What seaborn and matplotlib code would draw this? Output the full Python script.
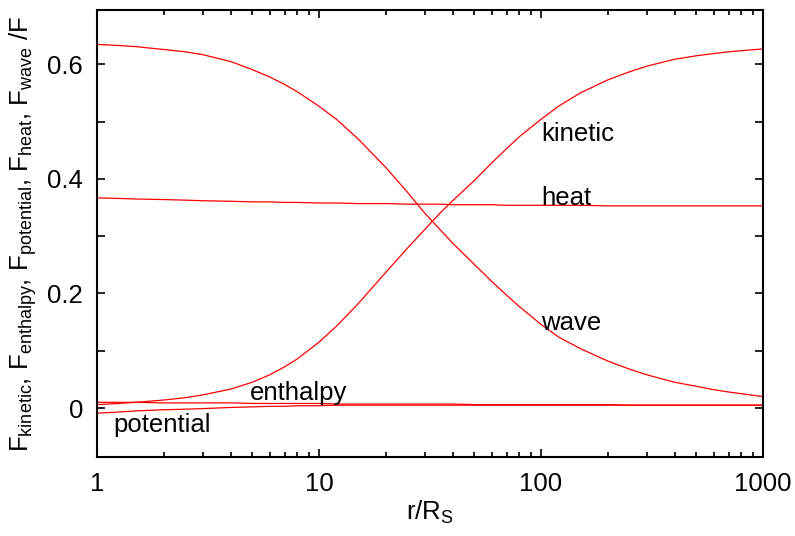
import numpy as np
import pandas as pd
import matplotlib
matplotlib.use("Agg")
import matplotlib.pyplot as plt
from matplotlib.ticker import LogLocator, NullFormatter, FixedLocator, FixedFormatter
import seaborn as sns

# ---- data ----
r = [1, 1.25, 1.5, 2, 2.5, 3, 4, 5, 6, 7, 8, 10, 12, 15, 20, 25, 30, 35, 40, 50, 60, 70, 80,
     100, 120, 150, 200, 250, 300, 400, 500, 600, 700, 800, 1000]
wave = [0.635, 0.633, 0.631, 0.626, 0.622, 0.617, 0.605, 0.591, 0.578, 0.565, 0.552, 0.527, 0.504,
        0.470, 0.420, 0.377, 0.340, 0.312, 0.288, 0.251, 0.221, 0.197, 0.177,
        0.146, 0.124, 0.104, 0.082, 0.068, 0.058, 0.045, 0.038, 0.032, 0.028, 0.025, 0.020]
kinetic = [0.006, 0.008, 0.010, 0.014, 0.018, 0.023, 0.033, 0.045, 0.058, 0.072, 0.086, 0.115, 0.143,
           0.182, 0.237, 0.279, 0.312, 0.340, 0.362, 0.397, 0.428, 0.453, 0.474,
           0.504, 0.527, 0.550, 0.573, 0.587, 0.597, 0.609, 0.615, 0.619, 0.622, 0.624, 0.627]
heat = [0.367, 0.366, 0.365, 0.364, 0.363, 0.362, 0.361, 0.360, 0.360, 0.359, 0.359, 0.358, 0.358,
        0.357, 0.357, 0.356, 0.356, 0.356, 0.355, 0.355, 0.355, 0.354, 0.354,
        0.354, 0.354, 0.354, 0.353, 0.353, 0.353, 0.353, 0.353, 0.353, 0.353, 0.353, 0.353]
enthalpy = [0.010, 0.010, 0.010, 0.009, 0.009, 0.009, 0.009, 0.008, 0.008, 0.008, 0.008, 0.008, 0.007,
            0.007, 0.007, 0.007, 0.007, 0.007, 0.007, 0.006, 0.006, 0.006, 0.006,
            0.006, 0.006, 0.006, 0.006, 0.005, 0.005, 0.005, 0.005, 0.005, 0.005, 0.005, 0.005]
potential = [-0.009, -0.007, -0.005, -0.003, -0.002, -0.001, 0.001, 0.002, 0.003, 0.003, 0.004, 0.004,
             0.005, 0.005, 0.005, 0.005, 0.005, 0.005, 0.005, 0.005, 0.005, 0.005, 0.005,
             0.005, 0.005, 0.005, 0.005, 0.005, 0.005, 0.005, 0.005, 0.005, 0.005, 0.005, 0.005]
series_names = ["kinetic", "heat", "wave", "enthalpy", "potential"]
x_ticks = [1, 10, 100, 1000]
x_tick_labels = ["1", "10", "100", "1000"]
y_ticks = [0, 0.2, 0.4, 0.6]
y_tick_labels = ["0", "0.2", "0.4", "0.6"]

series = dict(kinetic=kinetic, heat=heat, wave=wave, enthalpy=enthalpy, potential=potential)
df = pd.concat([pd.DataFrame({"r": r, "F": series[n], "name": n}) for n in series_names],
               ignore_index=True)

sns.set_theme(style="ticks")
plt.rcParams["font.family"] = ["Liberation Sans", "DejaVu Sans"]
plt.rcParams["mathtext.fontset"] = "custom"
plt.rcParams["mathtext.rm"] = "Liberation Sans"
plt.rcParams["mathtext.it"] = "Liberation Sans"
plt.rcParams["text.color"] = "black"
plt.rcParams["axes.labelcolor"] = "black"

fs = 18.5
fig = plt.figure(figsize=(7.95, 5.36), dpi=100)
ax = fig.add_axes([97/795, 1 - 457/536, (763 - 97)/795, (457 - 10)/536])

sns.lineplot(data=df, x="r", y="F", units="name", estimator=None, color="#ff0000",
             linewidth=0.9, ax=ax, legend=False)

ax.set_xscale("log")
ax.set_xlim(1, 1000)
ax.set_ylim(-0.0855, 0.695)

ax.xaxis.set_major_locator(FixedLocator(x_ticks))
ax.xaxis.set_major_formatter(FixedFormatter(x_tick_labels))
ax.xaxis.set_minor_locator(LogLocator(base=10, subs=np.arange(2, 10)))
ax.xaxis.set_minor_formatter(NullFormatter())
ax.yaxis.set_major_locator(FixedLocator(y_ticks))
ax.yaxis.set_major_formatter(FixedFormatter(y_tick_labels))
ax.yaxis.set_minor_locator(FixedLocator([0.1, 0.3, 0.5]))

ax.tick_params(which="both", direction="in", top=True, right=True, width=1.2, color="black",
               labelsize=fs, labelcolor="black")
ax.tick_params(which="major", length=6)
ax.tick_params(axis="x", which="minor", length=3.5)
ax.tick_params(axis="y", which="minor", length=6)
ax.tick_params(axis="x", pad=11)
ax.tick_params(axis="y", pad=10)

for s in ax.spines.values():
    s.set_linewidth(1.5)
    s.set_color("black")

ax.set_xlabel(r"r/R$_\mathregular{S}$", fontsize=fs, labelpad=2)
ax.set_ylabel(r"F$_\mathregular{kinetic}$, F$_\mathregular{enthalpy}$, F$_\mathregular{potential}$, "
              r"F$_\mathregular{heat}$, F$_\mathregular{wave}$ /F", fontsize=fs, labelpad=6)

ax.text(100, 0.478, "kinetic", fontsize=fs, va="center", ha="left")
ax.text(100, 0.366, "heat", fontsize=fs, va="center", ha="left")
ax.text(100, 0.149, "wave", fontsize=fs, va="center", ha="left")
ax.text(4.9, 0.026, "enthalpy", fontsize=fs, va="center", ha="left")
ax.text(1.18, -0.030, "potential", fontsize=fs, va="center", ha="left")

fig.savefig("out.png", dpi=100, facecolor="white")
